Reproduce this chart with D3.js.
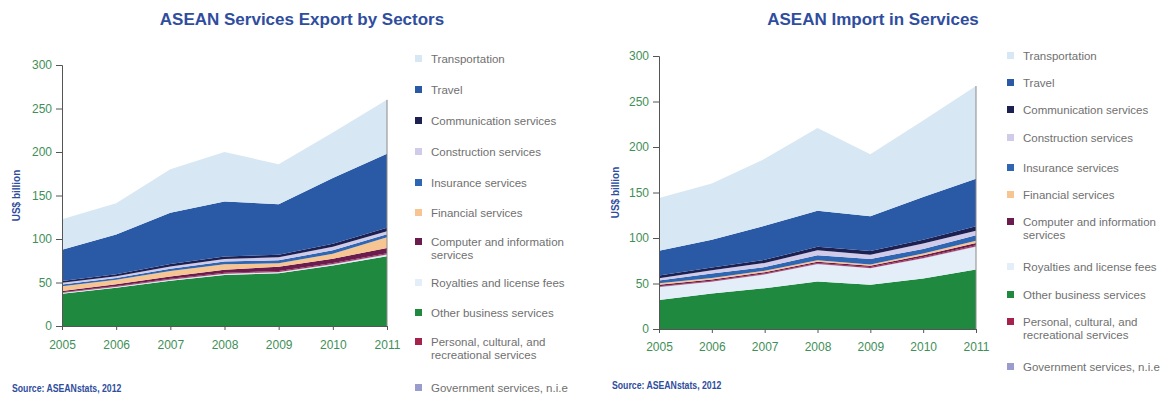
<!DOCTYPE html>
<html>
<head>
<meta charset="utf-8">
<script src="https://cdn.jsdelivr.net/npm/d3@7"></script>
<style>
  body { margin: 0; background: #fff; }
  svg { display: block; }
</style>
</head>
<body>
<svg id="chart" width="1176" height="405"></svg>
<script>
// ---- data ----
const years = [2005, 2006, 2007, 2008, 2009, 2010, 2011];
const yTicks = [0, 50, 100, 150, 200, 250, 300];

// Sectors in legend order
const sectorKeys = ["transport", "travel", "communication", "construction", "insurance",
  "financial", "computer", "royalties", "otherBusiness", "personal", "government"];
const sectorLabels = [
  ["Transportation"], ["Travel"], ["Communication services"], ["Construction services"],
  ["Insurance services"], ["Financial services"], ["Computer and information", "services"],
  ["Royalties and license fees"], ["Other business services"],
  ["Personal, cultural, and", "recreational services"], ["Government services, n.i.e"]
];
const sectorColors = ["#d7e7f3", "#2a5aa6", "#1d2152", "#cfcbe8", "#2f66b3",
  "#f7c592", "#6a1c4e", "#e3eef8", "#1f8a3f", "#a4224c", "#9a9ccd"];

// Stacking order, bottom layer first
const stackOrder = ["otherBusiness", "royalties", "government", "personal", "computer",
  "financial", "insurance", "construction", "communication", "travel", "transport"];

// Services exports, US$ billion
const exTransport      = [35, 36, 50, 57, 46, 52.5, 62];
const exTravel         = [36, 45.5, 59, 63, 58, 75.5, 85];
const exCommunication  = [2, 2.5, 3, 3, 3, 3.5, 4];
const exConstruction   = [2, 2, 2.5, 3, 3.5, 4, 3.5];
const exInsurance      = [2, 2, 2.5, 3, 3.5, 4, 3.5];
const exFinancial      = [5.3, 5.1, 6.5, 6.3, 3.8, 5.6, 12.4];
const exComputer       = [1.5, 2, 2.5, 3.5, 5, 5, 6];
const exRoyalties      = [0.8, 0.9, 1.0, 1.2, 1.2, 1.4, 1.6];
const exOtherBusiness  = [37, 44, 52, 58.6, 60.6, 69.4, 80.3];
const exPersonal       = [0.7, 0.8, 0.9, 1.0, 1.0, 1.1, 1.2];
const exGovernment     = [0.3, 0.3, 0.4, 0.4, 0.4, 0.5, 0.5];

// Services imports, US$ billion
const imTransport      = [58, 62, 73.5, 91, 68, 84, 102];
const imTravel         = [27, 30.5, 37.5, 39.5, 38.3, 47, 52];
const imCommunication  = [3, 3, 3.5, 4, 4, 4, 5];
const imConstruction   = [2.5, 3.5, 4.5, 5.5, 4.7, 6, 5];
const imInsurance      = [3, 5, 4, 5.5, 6, 5, 6];
const imFinancial      = [1.8, 1.5, 1.5, 1.5, 1.5, 2, 2.5];
const imComputer       = [1.7, 1.5, 1.5, 1.5, 1.5, 2, 2.5];
const imRoyalties      = [14, 13, 15, 19, 18, 22, 25];
const imOtherBusiness  = [32, 39, 44.8, 52.2, 48.7, 55.5, 65.4];
const imPersonal       = [0.6, 0.7, 0.8, 0.9, 0.9, 1.0, 1.1];
const imGovernment     = [0.3, 0.3, 0.4, 0.4, 0.4, 0.5, 0.5];

const exportSeries = [exTransport, exTravel, exCommunication, exConstruction, exInsurance,
  exFinancial, exComputer, exRoyalties, exOtherBusiness, exPersonal, exGovernment];
const importSeries = [imTransport, imTravel, imCommunication, imConstruction, imInsurance,
  imFinancial, imComputer, imRoyalties, imOtherBusiness, imPersonal, imGovernment];

function buildRows(series) {
  return years.map((yr, i) => {
    const row = { year: yr };
    sectorKeys.forEach((k, j) => { row[k] = series[j][i]; });
    return row;
  });
}

const svg = d3.select("#chart");
const tickColor = "#3f8f58";
const blueText = "#2f4d9e";

function drawPanel(cfg) {
  const x = d3.scaleLinear().domain([2005, 2011]).range([cfg.x0, cfg.x1]);
  const y = d3.scaleLinear().domain([0, 300]).range([cfg.y0, cfg.y1]);
  const rows = buildRows(cfg.series);
  const layers = d3.stack().keys(stackOrder)(rows);
  const area = d3.area()
    .x(d => x(d.data.year))
    .y0(d => y(d[0]))
    .y1(d => y(d[1]));

  const g = svg.append("g");
  g.selectAll("path.layer").data(layers).join("path")
    .attr("class", "layer")
    .attr("d", area)
    .attr("fill", d => sectorColors[sectorKeys.indexOf(d.key)]);

  // right edge of the plotted areas
  const top = layers[layers.length - 1];
  const last = top[top.length - 1];
  g.append("line")
    .attr("x1", x(2011)).attr("x2", x(2011))
    .attr("y1", y(0)).attr("y2", y(last[1]))
    .attr("stroke", "#8a8a8a").attr("stroke-width", 1);

  // y axis
  const yAxis = d3.axisLeft(y).tickValues(yTicks).tickSize(6).tickPadding(4);
  const ya = g.append("g").attr("transform", `translate(${cfg.x0},0)`).call(yAxis);
  ya.select(".domain").attr("stroke", "#555");
  ya.selectAll(".tick line").attr("stroke", "#555");
  ya.selectAll("text").attr("fill", tickColor)
    .style("font-family", "'Liberation Sans', Arial, sans-serif").style("font-size", "12px");

  // x axis
  const xAxis = d3.axisBottom(x).tickValues(years).tickFormat(d3.format("d"))
    .tickSize(4).tickPadding(cfg.xPad).tickSizeOuter(0);
  const xa = g.append("g").attr("transform", `translate(0,${cfg.y0})`).call(xAxis);
  xa.select(".domain").attr("stroke", "#555");
  xa.selectAll(".tick line").attr("stroke", "#555");
  xa.selectAll("text").attr("fill", tickColor)
    .style("font-family", "'Liberation Sans', Arial, sans-serif").style("font-size", "12px");

  // axis title
  g.append("text")
    .attr("transform", `translate(${cfg.yTitleX},${(cfg.y0 + cfg.y1) / 2}) rotate(-90)`)
    .attr("text-anchor", "middle")
    .attr("fill", blueText)
    .style("font-family", "'Liberation Sans', Arial, sans-serif")
    .style("font-size", "10px").style("font-weight", "bold")
    .text("US$ billion");

  // chart title
  g.append("text")
    .attr("x", cfg.titleX).attr("y", 25)
    .attr("text-anchor", "middle")
    .attr("fill", blueText)
    .style("font-family", "'Liberation Sans', Arial, sans-serif")
    .style("font-size", "17px").style("font-weight", "bold")
    .text(cfg.title);

  // source note (condensed)
  g.append("text")
    .attr("transform", `translate(${cfg.sourceX},${cfg.sourceY}) scale(0.83,1)`)
    .attr("fill", blueText)
    .style("font-family", "'Liberation Sans', Arial, sans-serif")
    .style("font-size", "10.5px").style("font-weight", "bold")
    .text("Source: ASEANstats, 2012");

  // legend
  const lg = g.append("g");
  sectorKeys.forEach((k, i) => {
    const ly = cfg.legendY[i];
    lg.append("rect")
      .attr("x", cfg.legendX).attr("y", ly - 4)
      .attr("width", 7).attr("height", 7)
      .attr("fill", sectorColors[i]);
    const t = lg.append("text")
      .attr("x", cfg.legendX + 16).attr("y", ly + 4)
      .attr("fill", "#707070")
      .style("font-family", "'Liberation Sans', Arial, sans-serif")
      .style("font-size", "11.5px");
    sectorLabels[i].forEach((line, li) => {
      t.append("tspan").attr("x", cfg.legendX + 16).attr("dy", li === 0 ? 0 : 12.5).text(line);
    });
  });
}

drawPanel({
  series: exportSeries,
  x0: 62, x1: 387, y0: 326, y1: 65,
  xPad: 10,
  yTitleX: 20, titleX: 302,
  title: "ASEAN Services Export by Sectors",
  sourceX: 12, sourceY: 392,
  legendX: 415,
  legendY: [59, 90, 121, 152, 183, 213, 242, 283, 313, 342, 388]
});

drawPanel({
  series: importSeries,
  x0: 659, x1: 976, y0: 329, y1: 56,
  xPad: 9,
  yTitleX: 619, titleX: 873,
  title: "ASEAN Import in Services",
  sourceX: 612, sourceY: 389,
  legendX: 1007,
  legendY: [56, 83, 110, 138, 168, 195, 222, 267, 295, 322, 367]
});
</script>
</body>
</html>
